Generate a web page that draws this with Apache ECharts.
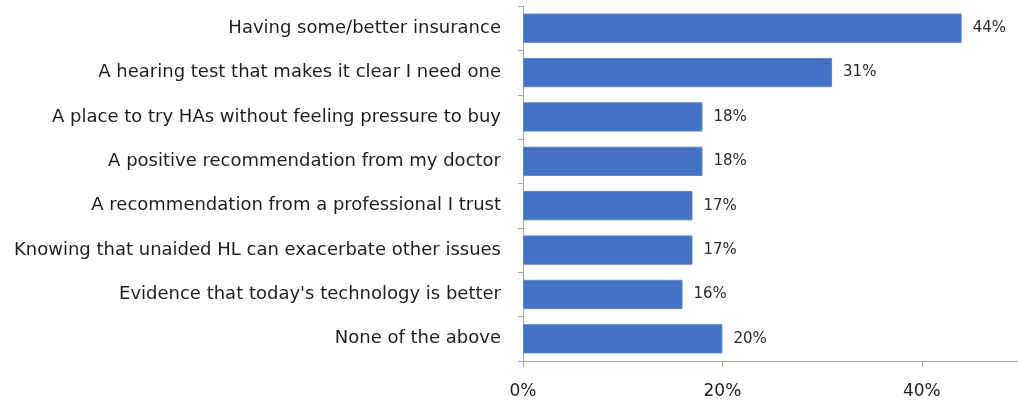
<!DOCTYPE html>
<html>
<head>
<meta charset="utf-8">
<script src="https://cdn.jsdelivr.net/npm/echarts@6/dist/echarts.min.js"></script>
<style>html,body{margin:0;padding:0;background:#fff;}#c{width:1018px;height:401px;}</style>
</head>
<body>
<div id="c"></div>
<script>
const categories = [
  "Having some/better insurance",
  "A hearing test that makes it clear I need one",
  "A place to try HAs without feeling pressure to buy",
  "A positive recommendation from my doctor",
  "A recommendation from a professional I trust",
  "Knowing that unaided HL can exacerbate other issues",
  "Evidence that today's technology is better",
  "None of the above"
];
const values = [44, 31, 18, 18, 17, 17, 16, 20];
const xTicks = [0, 20, 40];

const chart = echarts.init(document.getElementById('c'), null, {renderer: 'canvas'});
chart.setOption({
  animation: false,
  backgroundColor: '#ffffff',
  grid: {left: 523, top: 6, right: 0, bottom: 40, containLabel: false},
  xAxis: {
    type: 'value', min: 0, max: 49.65, interval: 20,
    axisLine: {show: true, lineStyle: {color: '#a6a6a6', width: 1}},
    axisTick: {show: true, length: 6, lineStyle: {color: '#a6a6a6'}},
    splitLine: {show: false},
    axisLabel: {
      margin: 22, color: '#1e1e1e', fontSize: 17, fontFamily: 'DejaVu Sans',
      showMaxLabel: false,
      formatter: v => xTicks.includes(v) ? v + '%' : ''
    }
  },
  yAxis: {
    type: 'category', data: categories, inverse: true,
    axisLine: {show: true, lineStyle: {color: '#a6a6a6', width: 1}},
    axisTick: {show: true, length: 5, lineStyle: {color: '#a6a6a6'}},
    axisLabel: {margin: 22, color: '#1e1e1e', fontSize: 18, fontFamily: 'DejaVu Sans'}
  },
  series: [{
    type: 'bar', data: values, barCategoryGap: '34%',
    itemStyle: {color: '#4472C4', borderColor: '#5a86d0', borderWidth: 1},
    label: {
      show: true, position: 'right', distance: 11, formatter: '{c}%',
      color: '#2a2a2a', fontSize: 15, fontFamily: 'DejaVu Sans'
    }
  }]
});
</script>
</body>
</html>
